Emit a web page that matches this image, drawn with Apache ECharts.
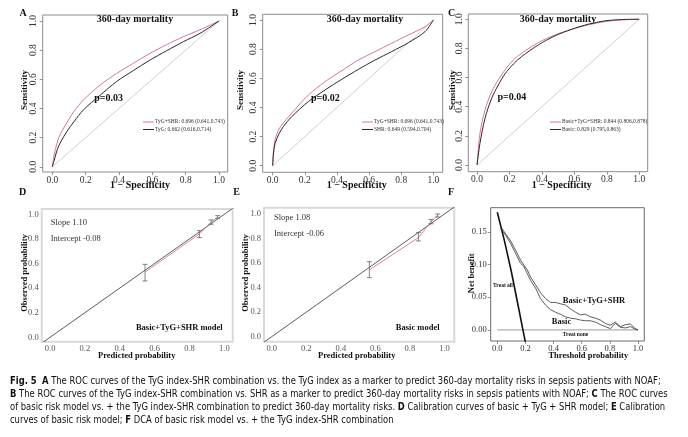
<!DOCTYPE html>
<html>
<head>
<meta charset="utf-8">
<script src="https://cdn.jsdelivr.net/npm/echarts@6/dist/echarts.min.js"></script>
<style>
html,body{margin:0;padding:0;background:#fff;}
#fig{width:688px;height:437px;}
</style>
</head>
<body>
<div id="fig"></div>
<script>
/* ROC points: [1 - specificity, sensitivity] */
var rocA_tygShr = [[0,0],[0.01,0.08],[0.03,0.17],[0.05,0.23],[0.086,0.30],[0.13,0.38],[0.186,0.458],[0.286,0.56],[0.386,0.64],[0.486,0.71],[0.586,0.778],[0.686,0.838],[0.786,0.892],[0.886,0.94],[1,1]];
var rocA_tyg = [[0,0],[0.01,0.04],[0.03,0.12],[0.05,0.17],[0.086,0.24],[0.13,0.31],[0.186,0.39],[0.286,0.49],[0.386,0.585],[0.486,0.66],[0.586,0.732],[0.686,0.796],[0.786,0.858],[0.886,0.915],[1,1]];
var rocB_tygShr = [[0,0],[0.005,0.10],[0.02,0.20],[0.05,0.27],[0.118,0.36],[0.222,0.485],[0.326,0.577],[0.43,0.652],[0.533,0.725],[0.637,0.783],[0.74,0.84],[0.844,0.897],[0.948,0.954],[1,1]];
var rocB_shr = [[0,0],[0.005,0.08],[0.015,0.153],[0.04,0.22],[0.066,0.268],[0.118,0.336],[0.222,0.44],[0.326,0.52],[0.43,0.593],[0.533,0.661],[0.637,0.725],[0.74,0.783],[0.844,0.844],[0.948,0.92],[1,1]];
var rocC_full = [[0,0],[0.018,0.217],[0.049,0.378],[0.09,0.503],[0.131,0.584],[0.172,0.652],[0.224,0.721],[0.275,0.767],[0.378,0.84],[0.48,0.892],[0.583,0.931],[0.686,0.961],[0.789,0.984],[0.891,0.995],[1,1]];
var rocC_basic = [[0,0],[0.018,0.149],[0.049,0.32],[0.09,0.458],[0.131,0.549],[0.172,0.625],[0.224,0.693],[0.275,0.744],[0.378,0.824],[0.48,0.886],[0.583,0.931],[0.686,0.966],[0.789,0.989],[0.891,0.998],[1,1]];
var rocDiag = [[0,0],[1,1]];
var rocTicks = [0, 0.2, 0.4, 0.6, 0.8, 1.0];

var legendA = ['TyG+SHR: 0.696 (0.641,0.743)', 'TyG: 0.662 (0.616,0.714)'];
var legendB = ['TyG+SHR: 0.696 (0.641,0.743)', 'SHR: 0.649 (0.594,0.704)'];
var legendC = ['Basic+TyG+SHR: 0.844 (0.806,0.878)', 'Basic: 0.829 (0.795,0.863)'];
var pValues = ['p=0.03', 'p=0.02', 'p=0.04'];

/* calibration: predicted, observed, lower, upper */
var calD_pred = [0.545, 0.857, 0.924, 0.962];
var calD_obs = [0.53, 0.84, 0.935, 0.978];
var calD_lo = [0.458, 0.81, 0.919, 0.967];
var calD_hi = [0.593, 0.867, 0.954, 0.989];
var calE_pred = [0.565, 0.849, 0.922, 0.961];
var calE_obs = [0.544, 0.807, 0.937, 0.99];
var calE_lo = [0.481, 0.78, 0.92, 0.975];
var calE_hi = [0.611, 0.848, 0.955, 1.0];
var calIdeal = [[-0.1,-0.1],[1.1,1.1]];
var calTicks = [0, 0.2, 0.4, 0.6, 0.8, 1.0];

/* decision curve: [threshold, net benefit] */
var dcaFull = [[0.024,0.158],[0.059,0.147],[0.095,0.136],[0.13,0.122],[0.165,0.107],[0.189,0.099],[0.213,0.092],[0.236,0.081],[0.272,0.069],[0.307,0.057],[0.343,0.048],[0.378,0.042],[0.414,0.042],[0.449,0.040],[0.485,0.038],[0.52,0.032],[0.556,0.027],[0.591,0.023],[0.626,0.024],[0.662,0.020],[0.697,0.018],[0.733,0.015],[0.768,0.010],[0.804,0.007],[0.839,0.012],[0.875,0.005],[0.91,0.008],[0.946,0.009],[0.981,0.002],[1.0,0]];
var dcaBasic = [[0.024,0.155],[0.059,0.145],[0.095,0.132],[0.13,0.117],[0.165,0.102],[0.189,0.097],[0.213,0.086],[0.236,0.076],[0.272,0.064],[0.307,0.048],[0.343,0.038],[0.378,0.031],[0.414,0.027],[0.449,0.024],[0.485,0.020],[0.52,0.018],[0.556,0.017],[0.591,0.015],[0.626,0.014],[0.662,0.014],[0.697,0.012],[0.733,0.008],[0.768,0.005],[0.804,0.002],[0.839,0.010],[0.875,0.004],[0.91,0.003],[0.946,0.005],[0.981,0.001],[1.0,0]];
var dcaTreatAll = [[0,0.18],[0.05,0.137],[0.1,0.089],[0.15,0.035],[0.182,0],[0.21,-0.03]];
var dcaTreatNone = [[0,0],[1,0]];
var dcaXTicks = [0, 0.2, 0.4, 0.6, 0.8, 1.0];
var dcaYTicks = [0, 0.05, 0.10, 0.15];

var RED = '#d9798a', DARK = '#2a2a2a', SERIF = 'Liberation Serif, Times New Roman, serif';

var grids = [], xAxes = [], yAxes = [];
function addPanel(p) {
	grids.push({left: p.box[0], top: p.box[1], width: p.box[2], height: p.box[3],
		show: true, borderColor: p.border, borderWidth: p.borderWidth, backgroundColor: 'transparent'});
	var g = grids.length - 1;
	xAxes.push({
		type: 'value', gridIndex: g, min: p.x[0], max: p.x[1],
		axisLine: {show: false, onZero: false}, splitLine: {show: false},
		axisTick: {show: p.ticks, customValues: p.xTicks, length: 3, lineStyle: {color: '#777', width: 0.8}},
		axisLabel: {customValues: p.xTicks, margin: p.xMargin, fontFamily: SERIF, fontSize: p.fs, color: p.labelColor,
			formatter: function (v) { return v.toFixed(1); }}
	});
	yAxes.push({
		type: 'value', gridIndex: g, min: p.y[0], max: p.y[1],
		axisLine: {show: false, onZero: false}, splitLine: {show: false},
		axisTick: {show: p.ticks, customValues: p.yTicks, length: 3, lineStyle: {color: '#777', width: 0.8}},
		axisLabel: {customValues: p.yTicks, margin: p.yMargin, rotate: p.yRotate, fontFamily: SERIF, fontSize: p.fs, color: p.labelColor,
			formatter: function (v) { return v.toFixed(p.yDigits); }}
	});
}

addPanel({box: [42.7, 15, 185, 157], x: [-0.058, 1.052], y: [-0.036, 1.041], xTicks: rocTicks, yTicks: rocTicks,
	border: '#8c8c8c', borderWidth: 1, ticks: true, xMargin: 3, yMargin: 4, yRotate: 90, fs: 9.5, labelColor: '#333', yDigits: 1});
addPanel({box: [262.7, 14.3, 180, 158], x: [-0.062, 1.058], y: [-0.045, 1.039], xTicks: rocTicks, yTicks: rocTicks,
	border: '#8c8c8c', borderWidth: 1, ticks: true, xMargin: 3, yMargin: 4, yRotate: 90, fs: 9.5, labelColor: '#333', yDigits: 1});
addPanel({box: [468.3, 14, 179.4, 157.7], x: [-0.054, 1.052], y: [-0.046, 1.036], xTicks: rocTicks, yTicks: rocTicks,
	border: '#8c8c8c', borderWidth: 1, ticks: true, xMargin: 3, yMargin: 4, yRotate: 90, fs: 9.5, labelColor: '#333', yDigits: 1});
addPanel({box: [41.7, 209, 191, 132.7], x: [-0.048, 1.048], y: [-0.036, 1.043], xTicks: calTicks, yTicks: calTicks,
	border: '#d9d9d9', borderWidth: 2, ticks: false, xMargin: 3, yMargin: 3, yRotate: 0, fs: 8.5, labelColor: '#555', yDigits: 1});
addPanel({box: [264, 207.7, 190.3, 134], x: [-0.045, 1.057], y: [-0.041, 1.051], xTicks: calTicks, yTicks: calTicks,
	border: '#d9d9d9', borderWidth: 2, ticks: false, xMargin: 3, yMargin: 3, yRotate: 0, fs: 8.5, labelColor: '#555', yDigits: 1});
addPanel({box: [490.7, 207.7, 153.6, 133.3], x: [-0.047, 1.045], y: [-0.017, 0.187], xTicks: dcaXTicks, yTicks: dcaYTicks,
	border: '#6a6a6a', borderWidth: 1, ticks: true, xMargin: 3, yMargin: 4, yRotate: 0, fs: 8.5, labelColor: '#333', yDigits: 2});

function lineSeries(name, data, g, color, width, smooth) {
	return {name: name, type: 'line', data: data, xAxisIndex: g, yAxisIndex: g, showSymbol: false, silent: true,
		smooth: smooth ? 0.3 : false, itemStyle: {color: color},
		lineStyle: {color: color, width: width}, z: 3};
}

function errorBars(pred, lo, hi, g) {
	var rows = [];
	for (var i = 0; i < pred.length; i++) rows.push([pred[i], lo[i], hi[i]]);
	return {type: 'custom', xAxisIndex: g, yAxisIndex: g, data: rows, silent: true, z: 4,
		encode: {x: 0, y: [1, 2]},
		renderItem: function (params, api) {
			var a = api.coord([api.value(0), api.value(1)]);
			var b = api.coord([api.value(0), api.value(2)]);
			var st = {stroke: '#666', lineWidth: 0.8};
			return {type: 'group', children: [
				{type: 'line', shape: {x1: a[0], y1: a[1], x2: b[0], y2: b[1]}, style: st},
				{type: 'line', shape: {x1: a[0] - 2.5, y1: a[1], x2: a[0] + 2.5, y2: a[1]}, style: st},
				{type: 'line', shape: {x1: b[0] - 2.5, y1: b[1], x2: b[0] + 2.5, y2: b[1]}, style: st}
			]};
		}};
}
function pairs(xs, ys) { var r = []; for (var i = 0; i < xs.length; i++) r.push([xs[i], ys[i]]); return r; }

var series = [
	lineSeries('diagA', rocDiag, 0, '#c4c4c4', 0.8, false),
	lineSeries(legendA[0], rocA_tygShr, 0, RED, 1, true),
	lineSeries(legendA[1], rocA_tyg, 0, DARK, 1, true),
	lineSeries('diagB', rocDiag, 1, '#c4c4c4', 0.8, false),
	lineSeries(legendB[0], rocB_tygShr, 1, RED, 1, true),
	lineSeries(legendB[1], rocB_shr, 1, DARK, 1, true),
	lineSeries('diagC', rocDiag, 2, '#c4c4c4', 0.8, false),
	lineSeries(legendC[0], rocC_full, 2, RED, 1, true),
	lineSeries(legendC[1], rocC_basic, 2, DARK, 1, true),
	lineSeries('idealD', calIdeal, 3, '#333', 0.8, false),
	lineSeries('calD', pairs(calD_pred, calD_obs), 3, RED, 0.9, false),
	errorBars(calD_pred, calD_lo, calD_hi, 3),
	lineSeries('idealE', calIdeal, 4, '#333', 0.8, false),
	lineSeries('calE', pairs(calE_pred, calE_obs), 4, RED, 0.9, false),
	errorBars(calE_pred, calE_lo, calE_hi, 4),
	lineSeries('Treat none', dcaTreatNone, 5, '#9a9a9a', 1, false),
	lineSeries('Treat all', dcaTreatAll, 5, '#111', 1.6, false),
	lineSeries('Basic+TyG+SHR', dcaFull, 5, '#333', 0.8, false),
	lineSeries('Basic', dcaBasic, 5, '#333', 0.8, false)
];

function roclegend(names, left) {
	return {data: names, left: left, top: 119, orient: 'vertical', padding: 0, itemGap: 1.5,
		icon: 'rect', itemWidth: 11, itemHeight: 1, selectedMode: false,
		textStyle: {fontFamily: SERIF, fontSize: 5.5, color: '#333', padding: [0, 0, 0, -4]}};
}

function txt(x, y, s, size, bold, opts) {
	opts = opts || {};
	return {type: 'text', x: x, y: y, rotation: opts.rot || 0, scaleX: opts.sx || 1, silent: true, z: 10,
		style: {text: s, fontFamily: opts.font || SERIF, fontSize: size, fontWeight: bold ? 'bold' : 'normal',
			fill: opts.color || '#111', align: opts.align || 'center', textAlign: opts.align || 'center',
			verticalAlign: 'middle', textVerticalAlign: 'middle', rich: opts.rich}};
}

var CAP = 'Liberation Sans Narrow, DejaVu Sans Condensed, Noto Sans, sans-serif';
var capRich = {b: {fontFamily: CAP, fontSize: 10, fontWeight: 'bold', fill: '#111'}};
var capLines = [
	'{b|Fig. 5}  {b|A} The ROC curves of the TyG index-SHR combination vs. the TyG index as a marker to predict 360-day mortality risks in sepsis patients with NOAF;',
	'{b|B} The ROC curves of the TyG index-SHR combination vs. SHR as a marker to predict 360-day mortality risks in sepsis patients with NOAF; {b|C} The ROC curves',
	'of basic risk model vs. + the TyG index-SHR combination to predict 360-day mortality risks. {b|D} Calibration curves of basic + TyG + SHR model; {b|E} Calibration',
	'curves of basic risk model; {b|F} DCA of basic risk model vs. + the TyG index-SHR combination'
];

var graphic = [
	txt(23, 13, 'A', 10, true), txt(235, 13, 'B', 10, true), txt(451.7, 13, 'C', 10, true),
	txt(22.7, 192.3, 'D', 10, true), txt(236.7, 192.3, 'E', 10, true), txt(451, 192.3, 'F', 10, true),
	txt(135, 19, '360-day mortality', 10, true), txt(365, 19, '360-day mortality', 10, true), txt(558, 19, '360-day mortality', 10, true),
	txt(25, 90, 'Sensitivity', 9, true, {rot: Math.PI / 2}), txt(240.7, 90, 'Sensitivity', 9, true, {rot: Math.PI / 2}), txt(452.7, 90, 'Sensitivity', 9, true, {rot: Math.PI / 2}),
	txt(140, 185, '1 \u2212 Specificity', 10, true), txt(356.7, 185, '1 \u2212 Specificity', 10, true), txt(561.7, 185, '1 \u2212 Specificity', 10, true),
	txt(94.3, 98, pValues[0], 10, true, {align: 'left'}), txt(311, 98, pValues[1], 10, true, {align: 'left'}), txt(497.5, 97, pValues[2], 10, true, {align: 'left'}),
	txt(25, 273, 'Observed probability', 8.5, true, {rot: Math.PI / 2}), txt(245.7, 273, 'Observed probability', 8.5, true, {rot: Math.PI / 2}),
	txt(136.7, 356, 'Predicted probability', 8.5, true), txt(356.7, 356, 'Predicted probability', 8.5, true),
	txt(50.7, 222.3, 'Slope 1.10', 8.5, false, {align: 'left', color: '#333'}), txt(50.7, 238.3, 'Intercept -0.08', 8.5, false, {align: 'left', color: '#333'}),
	txt(274, 217.3, 'Slope 1.08', 8.5, false, {align: 'left', color: '#333'}), txt(274, 233.3, 'Intercept -0.06', 8.5, false, {align: 'left', color: '#333'}),
	txt(179.3, 327.3, 'Basic+TyG+SHR model', 8.5, true), txt(417.7, 327.3, 'Basic model', 8.5, true),
	txt(471.7, 273.3, 'Net benefit', 8.5, true, {rot: Math.PI / 2}), txt(588.3, 355.7, 'Threshold probability', 8.5, true),
	txt(594, 300.7, 'Basic+TyG+SHR', 8.5, true), txt(561.5, 321.7, 'Basic', 8.5, true),
	txt(503, 286, 'Treat all', 5.5, true), txt(575.5, 334.3, 'Treat none', 5.5, true)
];
for (var i = 0; i < capLines.length; i++) {
	graphic.push(txt(10, 381 + i * 13.3, capLines[i], 10, false, {align: 'left', font: CAP, rich: capRich, color: '#111', sx: 0.935}));
}

var chart = echarts.init(document.getElementById('fig'), null, {renderer: 'canvas'});
chart.setOption({
	backgroundColor: '#fff',
	animation: false,
	grid: grids,
	xAxis: xAxes,
	yAxis: yAxes,
	legend: [roclegend(legendA, 143), roclegend(legendB, 362), roclegend(legendC, 550)],
	series: series,
	graphic: graphic
});
</script>
</body>
</html>
